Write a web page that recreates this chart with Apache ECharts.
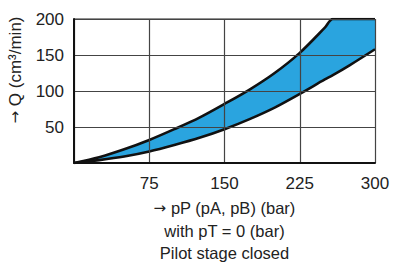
<!DOCTYPE html>
<html>
<head>
<meta charset="utf-8">
<script src="https://cdn.jsdelivr.net/npm/echarts@6/dist/echarts.min.js"></script>
<style>
html,body{margin:0;padding:0;background:#fff;}
#main{width:393px;height:262px;}
</style>
</head>
<body>
<div id="main"></div>
<script>
// pressure pP (bar) sample points
var pressure = [0, 25, 50, 75, 100, 125, 150, 175, 200, 225, 250, 258, 275, 300];
// upper and lower limit of the flow band, Q in cm3/min
var qUpper = [0, 8, 19, 32, 47, 63, 82, 102, 125, 153, 188, 200, 200, 200];
var qLower = [0, 4, 9, 16, 25, 35, 47, 61, 77, 96, 116, 122, 136, 158];
var xTicks = [75, 150, 225, 300];
var yTicks = [50, 100, 150, 200];

var myChart = echarts.init(document.getElementById('main'), null, {renderer: 'svg'});

var upperData = [], lowerData = [];
for (var i = 0; i < pressure.length; i++) {
    upperData.push([pressure[i], qUpper[i]]);
    lowerData.push([pressure[i], qLower[i]]);
}

var font = 'Liberation Sans, Arial, sans-serif';
var arrowStyle = {fontFamily: 'DejaVu Sans', fontSize: 15, color: '#222'};

var option = {
    animation: false,
    grid: {left: 74, right: 18, top: 19, bottom: 99, show: true, borderColor: '#222', borderWidth: 1,
        containLabel: false, outerBoundsMode: 'none'},
    xAxis: {
        type: 'value', min: 0, max: 300, interval: 75, z: 5,
        axisLine: {lineStyle: {color: '#111', width: 2}},
        axisTick: {show: false},
        splitLine: {lineStyle: {color: '#444', width: 1.2}},
        axisLabel: {
            color: '#222', fontSize: 17, fontFamily: font, margin: 12,
            formatter: function (v) { return xTicks.indexOf(v) >= 0 ? String(v) : ''; }
        },
        name: '{a|→} pP (pA, pB) (bar)\nwith pT = 0 (bar)\nPilot stage closed',
        nameLocation: 'middle', nameGap: 34,
        nameTextStyle: {color: '#222', fontSize: 16.5, fontFamily: font, lineHeight: 22.5, align: 'center',
            rich: {a: arrowStyle}}
    },
    yAxis: {
        type: 'value', min: 0, max: 200, interval: 50, z: 5,
        axisLine: {show: true, lineStyle: {color: '#111', width: 2}},
        axisTick: {show: false},
        splitLine: {lineStyle: {color: '#444', width: 1.2}},
        axisLabel: {
            color: '#222', fontSize: 17, fontFamily: font, margin: 10,
            formatter: function (v) { return yTicks.indexOf(v) >= 0 ? String(v) : ''; }
        }
    },
    graphic: [{
        type: 'text', x: 15, y: 70, rotation: Math.PI / 2,
        style: {text: '{a|→} Q (cm³/min)', fontSize: 17, fontFamily: font, fill: '#222',
            align: 'center', verticalAlign: 'middle', rich: {a: {fontFamily: 'DejaVu Sans', fontSize: 15, fill: '#222'}}}
    }],
    series: [{
        type: 'line', name: 'upper', data: upperData,
        smooth: 0.3, symbol: 'none',
        lineStyle: {color: '#111', width: 2.6},
        areaStyle: {color: '#2aa4df', opacity: 1}
    }, {
        type: 'line', name: 'lower', data: lowerData,
        smooth: 0.3, symbol: 'none',
        lineStyle: {color: '#111', width: 2.6},
        areaStyle: {color: '#ffffff', opacity: 1}
    }]
};
myChart.setOption(option);
</script>
</body>
</html>
